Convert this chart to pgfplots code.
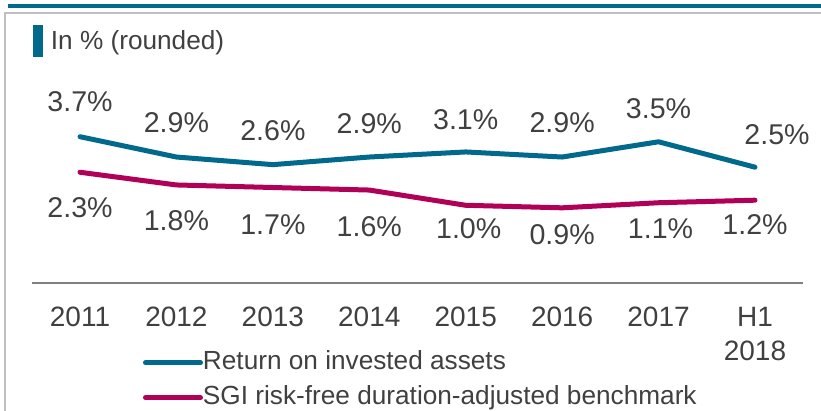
\documentclass[border=0pt]{standalone}
\usepackage{pgfplots}
\pgfplotsset{compat=1.18}
\usepackage{pgfplotstable}
\usepackage{fontspec}
\setmainfont{Liberation Sans}
\definecolor{teal2}{RGB}{0,105,140}
\definecolor{mag}{RGB}{176,0,88}
\definecolor{txt}{RGB}{64,64,64}
\definecolor{framec}{RGB}{191,191,191}
\definecolor{axc}{RGB}{128,128,128}

\pgfplotstableread{
x y dx dy
0 3.7 0 35
1 2.9 0 34
2 2.6 0 34.3
3 2.9 0 33.5
4 3.1 0 32.7
5 2.9 0 34
6 3.5 0 33.5
7 2.5 22 32.3
}\roia

\pgfplotstableread{
x y dx dy
0 2.3 0 -35.7
1 1.8 0 -36
2 1.7 0 -36.7
3 1.6 0 -36.7
4 1.0 3 -23.4
5 0.9 0 -27
6 1.1 2 -26.3
7 1.2 0 -24
}\bench

\begin{document}
\begin{tikzpicture}
\useasboundingbox (-31.8pt,-128pt) rectangle (789.2pt,283pt);
\fill[teal2] (-23.8pt,275pt) rectangle (789.2pt,279pt);
\draw[framec, line width=1.5pt] (-26.8pt,-128pt) -- (-26.8pt,270pt) -- (789.2pt,270pt);
\fill[teal2] (1.5pt,226.3pt) rectangle (10.9pt,258.3pt);
\node[anchor=base west, inner sep=0pt, font=\fontsize{26.2}{30}\selectfont, text=txt] at (18.9pt,233.7pt) {In \% (rounded)};
\begin{axis}[
  scale only axis, width=771.4pt, height=166.6pt,
  xmin=-0.5, xmax=7.5, ymin=-2.06, ymax=4.5,
  axis x line=bottom, axis y line=none,
  x axis line style={-, draw=axc, line width=1.5pt},
  xtick={0,...,7},
  xticklabels={2011,2012,2013,2014,2015,2016,2017,{H1\\2018}},
  major tick length=0pt,
  ytick=\empty,
  clip=false,
  xticklabel style={font=\fontsize{28}{34}\selectfont, text=txt, align=center, anchor=north, inner sep=0pt, yshift=-23.7pt},
  /pgf/number format/assume math mode=true,
  point meta=y,
  nodes near coords={\pgfmathprintnumber[fixed,fixed zerofill,precision=1]{\pgfplotspointmeta}\%},
  visualization depends on={\thisrow{dx}\as\dx},
  visualization depends on={\thisrow{dy}\as\dy},
  nodes near coords style={anchor=center, inner sep=0pt, font=\fontsize{28.6}{34}\selectfont, text=txt, xshift=\dx, yshift=\dy},
  legend style={at={(axis description cs:0.14415,-0.41)}, anchor=north west, draw=none, fill=none, inner sep=0pt, outer sep=0pt, font=\fontsize{26.2}{30}\selectfont, text=txt, row sep=12pt, column sep=0pt, nodes={inner sep=0pt, text height=18pt, text depth=5pt}},
  legend cell align=left,
  legend image code/.code={\draw[#1, line width=5pt, line cap=round] (0pt,0pt) -- (55pt,0pt);},
]
\addplot[teal2, line width=5pt, line join=round, line cap=round] table[x=x,y=y] {\roia};
\addlegendentry{Return on invested assets}
\addplot[mag, line width=5pt, line join=round, line cap=round] table[x=x,y=y] {\bench};
\addlegendentry{SGI risk-free duration-adjusted benchmark}
\end{axis}
\end{tikzpicture}
\end{document}
